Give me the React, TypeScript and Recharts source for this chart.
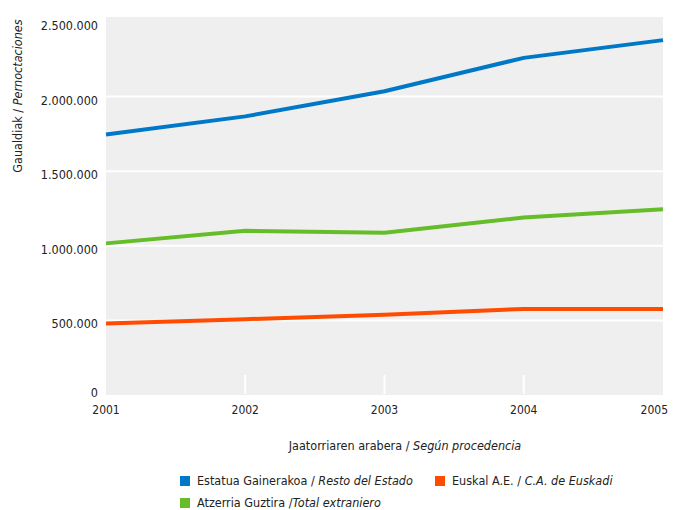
import { LineChart, Line, XAxis, YAxis, CartesianGrid } from 'recharts'

const years = ['2001', '2002', '2003', '2004', '2005']
const restoEstado = [1745000, 1867000, 2036000, 2259000, 2378000]
const totalExtranjero = [1016000, 1100000, 1088000, 1190000, 1245000]
const euskadi = [479000, 508000, 537000, 577000, 577000]
const yTicks = [0, 500000, 1000000, 1500000, 2000000, 2500000]
const gridValues = [500000, 1000000, 1500000, 2000000]

const series = [
  { key: 'resto', color: '#0078c8', eu: 'Estatua Gainerakoa / ', es: 'Resto del Estado' },
  { key: 'euskadi', color: '#ff4c00', eu: 'Euskal A.E. / ', es: 'C.A. de Euskadi' },
  { key: 'extranjero', color: '#66bd2a', eu: 'Atzerria Guztira /', es: 'Total extraniero' },
]

const data = years.map((year, i) => ({
  year,
  resto: restoEstado[i],
  extranjero: totalExtranjero[i],
  euskadi: euskadi[i],
}))

const font = '"DejaVu Sans Condensed", "DejaVu Sans", sans-serif'
const textColor = '#222'

function fmt(v: number): string {
  return String(v).replace(/\B(?=(\d{3})+(?!\d))/g, '.')
}

function YTick(props: any) {
  const { x, y, payload } = props
  const isZero = payload.value === 0
  return (
    <text x={x} y={isZero ? y + 2 : y + 8} textAnchor="end" fontSize={12.5} fontFamily={font} fill={textColor}>
      {fmt(payload.value)}
    </text>
  )
}

function XTick(props: any) {
  const { x, y, payload, index } = props
  const last = index === years.length - 1
  const inner = index > 0 && !last
  return (
    <g>
      {inner && <line x1={x} x2={x} y1={y - 20} y2={y - 1} stroke="#fff" strokeWidth={2} />}
      <text
        x={last ? x + 5 : x}
        y={y + 19}
        textAnchor={last ? 'end' : 'middle'}
        fontSize={12}
        fontFamily={font}
        fill={textColor}
      >
        {payload.value}
      </text>
    </g>
  )
}

// legend placement: [left, top] of each colour square
const legendPos = [
  [180, 476],
  [435, 476],
  [180, 498],
]

export default function App() {
  return (
    <div style={{ position: 'absolute', left: 0, top: 0, width: 675, height: 510, background: '#fff', fontFamily: font, color: textColor }}>
      <LineChart
        width={675}
        height={510}
        data={data}
        margin={{ top: 17, right: 12, left: 46, bottom: 95 }}
      >
        <CartesianGrid
          vertical={false}
          fill="#efefef"
          fillOpacity={1}
          stroke="#ffffff"
          strokeWidth={2}
          horizontalValues={gridValues}
        />
        <XAxis
          dataKey="year"
          height={20}
          tick={<XTick />}
          tickLine={false}
          axisLine={false}
          tickSize={0}
          tickMargin={0}
          interval={0}
          padding={{ left: 0, right: 0 }}
        />
        <YAxis
          width={60}
          domain={[0, 2533000]}
          ticks={yTicks}
          tick={<YTick />}
          tickLine={false}
          axisLine={false}
          interval={0}
          allowDataOverflow
        />
        <Line dataKey="resto" stroke="#0078c8" strokeWidth={4} dot={false} isAnimationActive={false} />
        <Line dataKey="extranjero" stroke="#66bd2a" strokeWidth={4} dot={false} isAnimationActive={false} />
        <Line dataKey="euskadi" stroke="#ff4c00" strokeWidth={4} dot={false} isAnimationActive={false} />
      </LineChart>

      <div
        style={{
          position: 'absolute',
          left: 17,
          top: 96,
          transform: 'translate(-50%, -50%) rotate(-90deg)',
          whiteSpace: 'nowrap',
          fontSize: 12.5,
        }}
      >
        Gaualdiak / <i>Pernoctaciones</i>
      </div>

      <div
        style={{
          position: 'absolute',
          left: 405,
          top: 445,
          transform: 'translate(-50%, -50%)',
          whiteSpace: 'nowrap',
          fontSize: 12.5,
        }}
      >
        Jaatorriaren arabera / <i>Según procedencia</i>
      </div>

      {series.map((s, i) => (
        <div
          key={s.key}
          style={{
            position: 'absolute',
            left: legendPos[i][0],
            top: legendPos[i][1] - 4,
            display: 'flex',
            alignItems: 'center',
            whiteSpace: 'nowrap',
            fontSize: 12.5,
            lineHeight: '18px',
          }}
        >
          <span style={{ display: 'inline-block', width: 10, height: 10, background: s.color, marginRight: 7 }} />
          <span>
            {s.eu}
            <i>{s.es}</i>
          </span>
        </div>
      ))}
    </div>
  )
}
